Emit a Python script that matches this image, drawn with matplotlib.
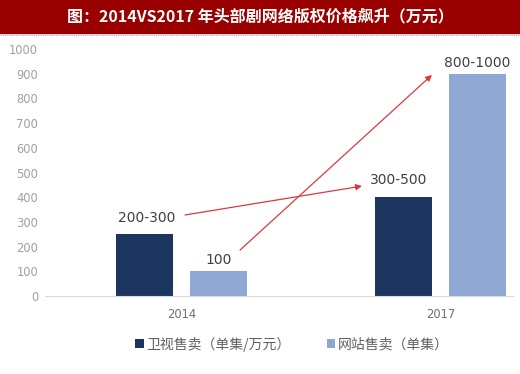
import matplotlib.pyplot as plt
import matplotlib.patches as patches
import numpy as np

plt.rcParams['font.family'] = ['Noto Sans CJK SC', 'DejaVu Sans']

years = ['2014', '2017']
tv_values = [250, 400]
web_values = [100, 900]
tv_labels = ['200-300', '300-500']
web_labels = ['100', '800-1000']
series_names = ['卫视售卖（单集/万元）', '网站售卖（单集）']
title = '图：2014VS2017 年头部剧网络版权价格飙升（万元）'

dark = '#1c365f'
light = '#8fa7d3'
red = '#e2363c'

fig = plt.figure(figsize=(5.2, 3.74), dpi=100)

# title bar
fig.patches.append(patches.Rectangle((0, 1 - 33 / 374), 1, 33 / 374,
                                     transform=fig.transFigure, color='#990000', zorder=0))
fig.add_artist(plt.Line2D([0, 1], [1 - 34.5 / 374] * 2, transform=fig.transFigure,
                          color='#9fb4d8', lw=0.8, ls=(0, (1, 1))))
fig.text(0.5, 1 - 16.5 / 374, title, color='white', fontsize=11.5, fontweight='bold',
         ha='center', va='center')

ax = fig.add_axes([45 / 520, 78 / 374, 468 / 520, 247 / 374])
x = np.arange(len(years))
w = 0.22
off = 0.143
b1 = ax.bar(x - off, tv_values, w, color=dark, label=series_names[0])
b2 = ax.bar(x + off, web_values, w, color=light, label=series_names[1])

ax.set_xlim(-0.527, 1.28)
ax.set_ylim(0, 1000)
ax.set_yticks(range(0, 1001, 100))
ax.set_xticks(x)
ax.set_xticklabels(years)
ax.tick_params(axis='y', length=0, labelsize=8.3, colors='#a0a0a0', pad=5)
ax.tick_params(axis='x', length=0, labelsize=8.3, colors='#707070', pad=9)
for lab in ax.get_yticklabels() + ax.get_xticklabels():
    lab.set_family('DejaVu Sans')
for s in ['top', 'right', 'left']:
    ax.spines[s].set_visible(False)
ax.spines['bottom'].set_color('#d9d9d9')

# value labels
lab_off_tv = [66, 70]
lab_off_web = [46, 43]
for i in range(len(years)):
    ax.text(x[i] - off + (0.01 if i == 0 else -0.02), tv_values[i] + lab_off_tv[i], tv_labels[i],
            ha='center', va='center', fontsize=10, color='#404040', family='DejaVu Sans')
    ax.text(x[i] + off, web_values[i] + lab_off_web[i], web_labels[i],
            ha='center', va='center', fontsize=10, color='#404040', family='DejaVu Sans')

# arrows
ax.annotate('', xy=(0.697, 445), xytext=(0.0135, 328),
            arrowprops=dict(arrowstyle='-|>', color=red, lw=0.9, mutation_scale=9,
                            shrinkA=0, shrinkB=0))
ax.annotate('', xy=(0.967, 895), xytext=(0.226, 186),
            arrowprops=dict(arrowstyle='-|>', color=red, lw=0.9, mutation_scale=9,
                            shrinkA=0, shrinkB=0))

fig.legend(handles=[b1, b2], loc='center', bbox_to_anchor=(292 / 520, 1 - 344 / 374),
           ncol=2, frameon=False, fontsize=10, labelcolor='#606060',
           handlelength=0.6, handleheight=0.6, handletextpad=0.2, columnspacing=2.6)

fig.savefig('out.png', dpi=100)
